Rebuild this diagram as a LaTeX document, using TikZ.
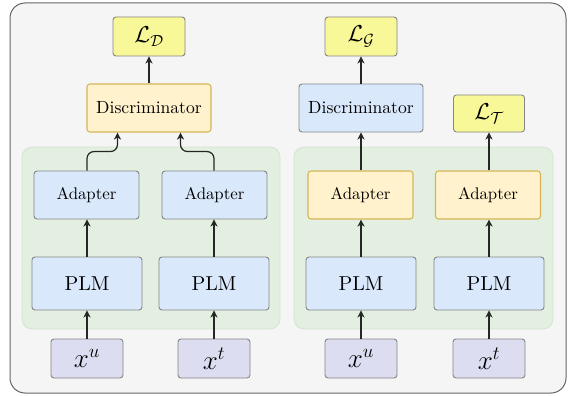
\RequirePackage{fix-cm}
\documentclass[tikz,border=0pt]{standalone}
\usetikzlibrary{arrows.meta}
\definecolor{framefill}{HTML}{F5F5F5}
\definecolor{framedraw}{HTML}{666666}
\definecolor{grpfill}{HTML}{E3EFE0}
\definecolor{grpdraw}{HTML}{D3E6CF}
\definecolor{bluefill}{HTML}{DAE8FC}
\definecolor{boxdraw}{HTML}{858585}
\definecolor{orfill}{HTML}{FFF2CC}
\definecolor{ordraw}{HTML}{D6B656}
\definecolor{lossfill}{HTML}{F8F898}
\definecolor{inpfill}{HTML}{DCDDF0}
% labels are set in the 10pt design size and magnified
\newcommand\biglab[2]{\scalebox{#1}{#2}}
\tikzset{
  box/.style={draw=boxdraw, line width=0.9pt, rounded corners=3pt, inner sep=0pt, align=center},
  blue/.style={box, fill=bluefill},
  orange/.style={box, fill=orfill, draw=ordraw, line width=1.1pt},
  loss/.style={box, fill=lossfill, minimum width=72pt, minimum height=39pt, font=\fontsize{23}{26}\selectfont},
  inp/.style={box, fill=inpfill, minimum width=72pt, minimum height=39pt, font=\fontsize{27}{30}\selectfont},
  plm/.style={blue, minimum width=110pt, minimum height=53pt},
  adp/.style={minimum width=105pt, minimum height=48pt},
  disc/.style={minimum width=124pt, minimum height=48pt},
  group/.style={draw=grpdraw, fill=grpfill, line width=0.8pt, rounded corners=10pt},
  arr/.style={-{Stealth[length=7pt,width=7pt,inset=2pt]}, line width=1.2pt, draw=black!85}
}
\begin{document}
\begin{tikzpicture}[x=1pt,y=-1pt]
  \useasboundingbox (0,0) rectangle (570,396);
  % outer frame
  \draw[draw=framedraw, fill=framefill, line width=1pt, rounded corners=15pt] (10,3) rectangle (566,393);
  % shared-encoder groups
  \draw[group] (22,147) rectangle (280,329);
  \draw[group] (294,147) rectangle (553,329);

  % left: discriminator training
  \node[loss] (LD) at (149,36.5) {$\mathcal{L}_{\mathcal{D}}$};
  \node[orange, disc] (DiscL) at (149,108) {\biglab{1.76}{Discriminator}};
  \node[blue, adp] (AdL1) at (86.5,195) {\biglab{1.68}{Adapter}};
  \node[blue, adp] (AdL2) at (214.5,195) {\biglab{1.68}{Adapter}};
  \node[plm] (PLML1) at (87,283.5) {\biglab{2.02}{PLM}};
  \node[plm] (PLML2) at (214,283.5) {\biglab{2.02}{PLM}};
  \node[inp] (XuL) at (87,358.5) {$x^u$};
  \node[inp] (XtL) at (214,358.5) {$x^t$};

  % right: generator / task training
  \node[loss] (LG) at (361,36.5) {$\mathcal{L}_{\mathcal{G}}$};
  \node[blue, disc] (DiscR) at (361,108) {\biglab{1.76}{Discriminator}};
  \node[loss, minimum width=71pt, minimum height=37pt] (LT) at (489,113.5) {$\mathcal{L}_{\mathcal{T}}$};
  \node[orange, adp] (AdR1) at (360.5,195) {\biglab{1.68}{Adapter}};
  \node[orange, adp] (AdR2) at (488,195) {\biglab{1.68}{Adapter}};
  \node[plm] (PLMR1) at (361,283.5) {\biglab{2.02}{PLM}};
  \node[plm] (PLMR2) at (489,283.5) {\biglab{2.02}{PLM}};
  \node[inp] (XuR) at (361,358.5) {$x^u$};
  \node[inp] (XtR) at (489,358.5) {$x^t$};

  % connectors, left
  \draw[arr] (XuL) -- (PLML1);
  \draw[arr] (XtL) -- (PLML2);
  \draw[arr] (PLML1) -- (AdL1.south -| PLML1);
  \draw[arr] (PLML2) -- (AdL2.south -| PLML2);
  \draw[arr, rounded corners=7pt] (AdL1.north -| PLML1) -- ++(0,-19) -| ([xshift=-31.5pt]DiscL.south);
  \draw[arr, rounded corners=7pt] (AdL2.north -| PLML2) -- ++(0,-19) -| ([xshift=31.5pt]DiscL.south);
  \draw[arr] (DiscL) -- (LD);

  % connectors, right
  \draw[arr] (XuR) -- (PLMR1);
  \draw[arr] (XtR) -- (PLMR2);
  \draw[arr] (PLMR1) -- (AdR1.south -| PLMR1);
  \draw[arr] (PLMR2) -- (AdR2.south -| PLMR2);
  \draw[arr] (AdR1.north -| DiscR) -- (DiscR);
  \draw[arr] (AdR2.north -| LT) -- (LT);
  \draw[arr] (DiscR) -- (LG);
\end{tikzpicture}
\end{document}
